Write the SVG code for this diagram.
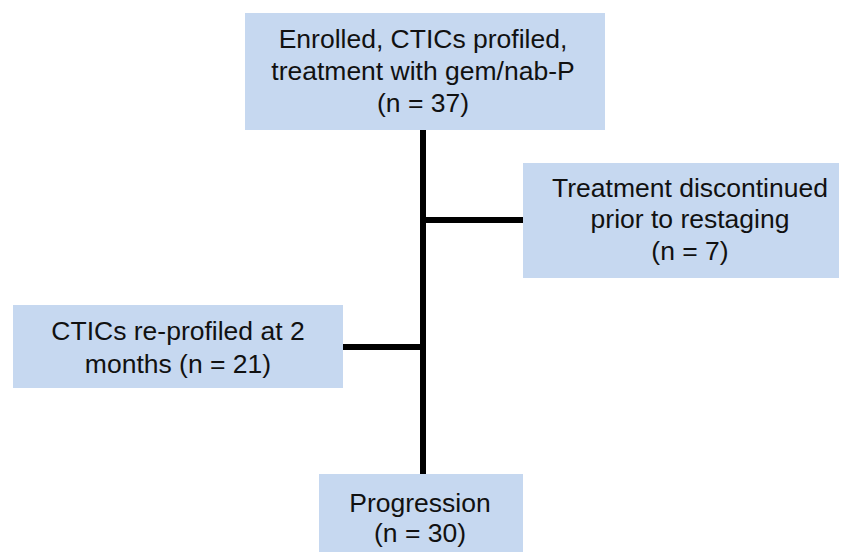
<svg xmlns="http://www.w3.org/2000/svg" width="842" height="552" viewBox="0 0 842 552">
<style>
.box{fill:#c6d8f0;}
.t{font-family:"Liberation Sans",Arial,sans-serif;font-size:26.5px;fill:#111;text-anchor:middle;}
.c{stroke:#000;stroke-width:6;fill:none;}
</style>
<rect width="842" height="552" fill="#fff"/>
<g id="connectors">
<line class="c" x1="423" y1="130" x2="423" y2="474"/>
<line class="c" x1="423" y1="220" x2="523" y2="220"/>
<line class="c" x1="343" y1="347" x2="423" y2="347"/>
</g>
<g id="enrolled">
<rect class="box" x="245" y="13" width="360" height="117"/>
<text class="t" x="423" y="48">Enrolled, CTICs profiled,</text>
<text class="t" x="423" y="80">treatment with gem/nab-P</text>
<text class="t" x="423" y="112">(n = 37)</text>
</g>
<g id="discontinued">
<rect class="box" x="523" y="163" width="316" height="115"/>
<text class="t" x="690" y="197">Treatment discontinued</text>
<text class="t" x="690" y="228">prior to restaging</text>
<text class="t" x="690" y="260">(n = 7)</text>
</g>
<g id="reprofiled">
<rect class="box" x="13" y="305" width="330" height="83"/>
<text class="t" x="178" y="340">CTICs re-profiled at 2</text>
<text class="t" x="178" y="373">months (n = 21)</text>
</g>
<g id="progression">
<rect class="box" x="319" y="474" width="204" height="78"/>
<text class="t" x="420" y="512">Progression</text>
<text class="t" x="420" y="542">(n = 30)</text>
</g>
</svg>
